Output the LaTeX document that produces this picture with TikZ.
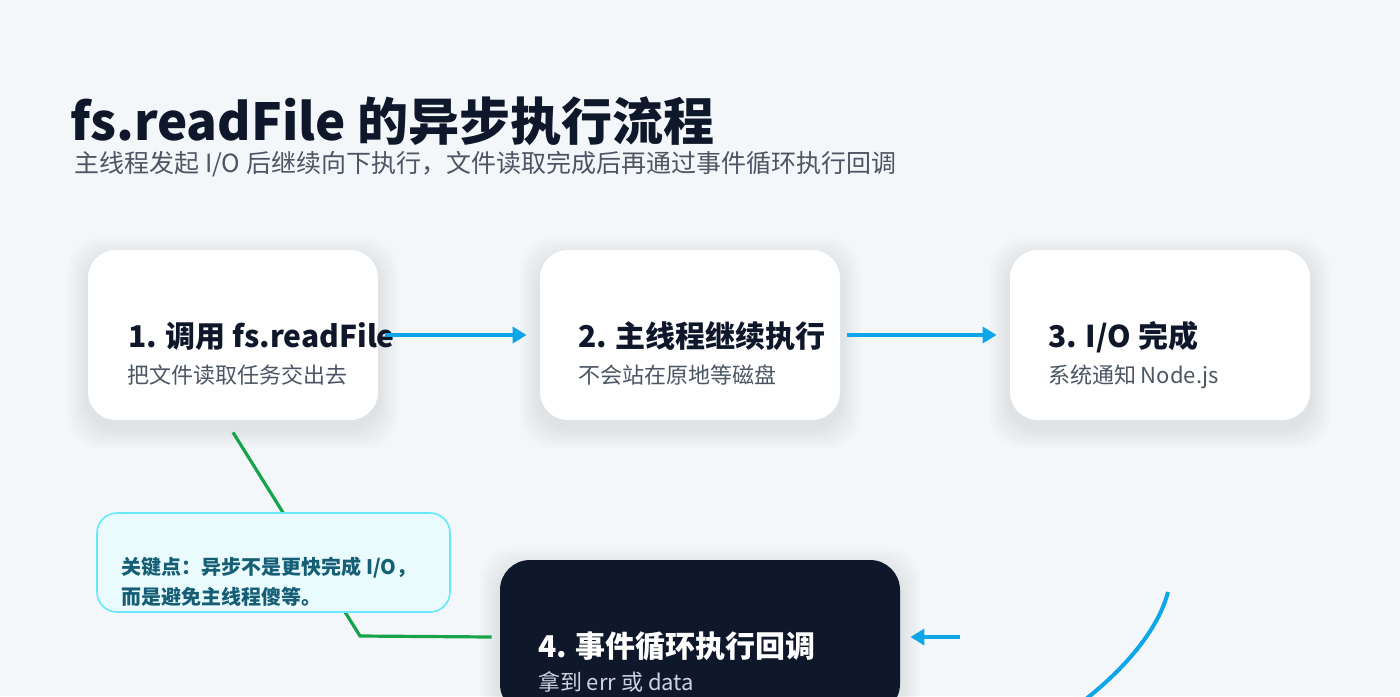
\documentclass[tikz,border=0pt]{standalone}
\usepackage{fontspec}
\setmainfont{Noto Sans CJK SC}
\usepackage{tikz}
\usetikzlibrary{arrows.meta,positioning,calc,backgrounds}
\usepackage{xcolor}
\definecolor{canvas}{HTML}{F4F7F9}
\definecolor{ink}{HTML}{0F172A}
\definecolor{slate}{HTML}{4B5563}
\definecolor{sky}{HTML}{0EA5E9}
\definecolor{leaf}{HTML}{16A34A}
\definecolor{notefill}{HTML}{E9FBFD}
\definecolor{noteline}{HTML}{67E8F9}
\definecolor{notetext}{HTML}{155E75}
\definecolor{softgray}{HTML}{CBD5E1}

\tikzset{
  stepbox/.style={rectangle, rounded corners=14pt, fill=white, draw=none,
    minimum width=150pt, minimum height=85pt},
  darkbox/.style={stepbox, fill=ink, minimum width=200pt, minimum height=77pt, rounded corners=15pt},
  notebox/.style={rectangle, rounded corners=10pt, fill=notefill, draw=noteline, line width=0.8pt,
    minimum width=176.5pt, minimum height=49.5pt},
  steptitle/.style={anchor=base west, inner sep=0pt, font=\fontsize{15pt}{18pt}\selectfont\bfseries, text=ink},
  stepnote/.style={anchor=base west, inner sep=0pt, font=\fontsize{11pt}{13pt}\selectfont, text=slate},
  flow/.style={draw=sky, line width=2pt, -{Triangle[length=7pt,width=8pt]}},
  flowline/.style={draw=sky, line width=2pt},
  keyline/.style={draw=leaf, line width=1.6pt},
  haze/.style={fill=black, opacity=0.009, rounded corners=16pt},
}

\begin{document}
\begin{tikzpicture}[x=0.5pt, y=-0.5pt]
  \path[use as bounding box] (0,0) rectangle (1400,696);
  \clip (0,0) rectangle (1400,696);

  % title
  \node[anchor=base west, inner sep=0pt, text=ink, font=\fontsize{25.5pt}{30pt}\selectfont\bfseries]
    (title) at (70,140) {fs.readFile 的异步执行流程};
  \node[anchor=base west, inner sep=0pt, text=slate, font=\fontsize{12.5pt}{15pt}\selectfont]
    (subtitle) at (74,172) {主线程发起 I/O 后继续向下执行，文件读取完成后再通过事件循环执行回调};

  % steps
  \node[stepbox, minimum width=145pt] (box1) at (233,335) {};
  \node[stepbox] (box2) at (690,335) {};
  \node[stepbox] (box3) at (1160,335) {};
  \node[darkbox] (box4) at (700,637) {};

  \node[steptitle] (t1) at ([shift={(40,12)}]box1.west) {1. 调用 fs.readFile};
  \node[stepnote] (s1) at ([shift={(39,48)}]box1.west) {把文件读取任务交出去};
  \node[steptitle] (t2) at ([shift={(38,12)}]box2.west) {2. 主线程继续执行};
  \node[stepnote] (s2) at ([shift={(38,48)}]box2.west) {不会站在原地等磁盘};
  \node[steptitle] (t3) at ([shift={(38,12)}]box3.west) {3. I/O 完成};
  \node[stepnote] (s3) at ([shift={(38,48)}]box3.west) {系统通知 Node.js};
  \node[steptitle, text=white] (t4) at ([shift={(38,20)}]box4.west) {4. 事件循环执行回调};
  \node[stepnote, text=softgray] (s4) at ([shift={(38,53)}]box4.west) {拿到 err 或 data};

  % soft shadows
  \begin{scope}[on background layer]
    \fill[canvas] (0,0) rectangle (1400,696);
    \foreach \b in {box1,box2,box3,box4}
      \foreach \i in {1,...,10}
        \fill[haze] ([shift={(-2*\i,-2*\i+8)}]\b.north west) rectangle ([shift={(2*\i,2*\i+8)}]\b.south east);
  \end{scope}

  % connectors
  \draw[flow, shorten <=3.5pt, shorten >=6.5pt] (box1.east) -- (box2.west);
  \draw[flow, shorten <=3.5pt, shorten >=6.5pt] (box2.east) -- (box3.west);
  \coordinate (back) at (960,637);
  \draw[flow, shorten >=5pt] (back) -- (box4.east);
  \coordinate (arcA) at (1168,592);
  \coordinate (arcB) at (1086,699);
  \draw[flowline] (arcA) .. controls (1158,630) and (1125,668) .. (arcB);

  \coordinate (bend) at (360,636);
  \draw[keyline] ([shift={(0,12)}]box1.south) -- (bend) -- ([shift={(-8,0)}]box4.west);

  % key point
  \node[notebox] (note) at (273.5,562.5) {};
  \node[anchor=base west, inner sep=0pt, text=notetext, font=\fontsize{10pt}{12pt}\selectfont\bfseries]
    (n1) at ([shift={(25,11.5)}]note.west) {关键点：异步不是更快完成 I/O，};
  \node[anchor=base west, inner sep=0pt, text=notetext, font=\fontsize{10pt}{12pt}\selectfont\bfseries]
    (n2) at ([shift={(25,41.5)}]note.west) {而是避免主线程傻等。};
\end{tikzpicture}
\end{document}
